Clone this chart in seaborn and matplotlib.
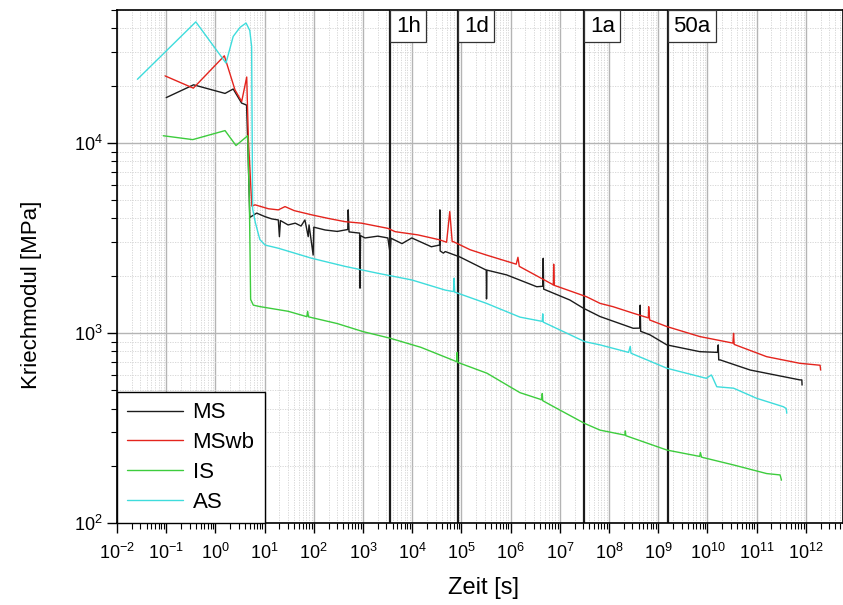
import numpy as np
import pandas as pd
import matplotlib
matplotlib.use("Agg")
import matplotlib.pyplot as plt
import seaborn as sns
from matplotlib.ticker import LogLocator, NullFormatter
from matplotlib.lines import Line2D

# ---------------- data ----------------
ms_t = [0.1, 0.36, 1.57, 2.3, 3.4, 4.3, 4.6, 5.0, 6.9, 10.2, 14, 19, 20, 21, 30, 42, 55, 66,
        77, 80, 97, 100, 170, 300, 490, 500, 520, 860, 870, 890, 1100, 2000, 3200, 3550,
        3700, 6200, 9800, 2.45e4, 3.6e4, 3.65e4, 3.7e4, 4.3e4, 4.7e4, 9.3e4, 3.2e5, 3.24e5,
        3.3e5, 8.3e5, 3.4e6, 4.5e6, 4.6e6, 4.7e6, 1.6e7, 3e7, 6.6e7, 3.1e8, 4.2e8, 4.3e8,
        4.4e8, 6.8e8, 1.5e9, 7e9, 1.6e10, 1.66e10, 1.7e10, 1.82e10, 7.4e10, 3.5e11, 7.6e11,
        8.3e11, 8.4e11]
ms_e = [17300, 20200, 18200, 19200, 16200, 15800, 9000, 4050, 4270, 4090, 3980, 3930, 3210,
        3900, 3700, 3780, 3650, 3930, 3210, 3700, 2570, 3600, 3480, 3420, 3500, 4440, 3400,
        3350, 1720, 3250, 3160, 3230, 3160, 2630, 3150, 2950, 3160, 2840, 2900, 4440, 2700,
        2630, 2680, 2510, 2140, 1510, 2140, 2020, 1750, 1760, 2470, 1700, 1490, 1350, 1219,
        1058, 1060, 1400, 1020, 977, 865, 797, 790, 865, 721, 721, 638, 589, 566, 566, 532]

mswb_t = [0.095, 0.356, 1.52, 2.5, 3.42, 4.33, 4.68, 5.5, 6.4, 12, 19, 26, 40, 91, 200, 430,
          930, 3200, 4500, 1.3e4, 3.6e4, 5.0e4, 5.8e4, 6.5e4, 6.9e4, 1.5e5, 3.2e5, 1.3e6,
          1.41e6, 1.5e6, 7.4e6, 7.5e6, 7.7e6, 3.5e7, 6.6e7, 1.2e8, 3.1e8, 6.3e8, 6.4e8,
          6.7e8, 1.5e9, 7e9, 3.3e10, 3.4e10, 3.5e10, 1.6e11, 7.6e11, 1.95e12, 2.0e12]
mswb_e = [22500, 19400, 28700, 19000, 16500, 22200, 10400, 4650, 4720, 4500, 4440, 4620,
          4400, 4180, 4000, 3850, 3780, 3550, 3410, 3280, 3090, 3000, 4350, 3020, 3020, 2740,
          2570, 2300, 2500, 2240, 1790, 2300, 1780, 1550, 1430, 1375, 1270, 1200, 1375, 1170,
          1080, 957, 884, 995, 870, 750, 692, 676, 638]

is_t = [0.087, 0.346, 1.57, 2.62, 4.53, 4.9, 5.2, 5.9, 8.1, 30, 72, 75, 78, 300, 1000, 3550,
        1.5e4, 8.0e4, 8.2e4, 8.4e4, 3.3e5, 1.55e6, 4.3e6, 4.4e6, 4.5e6, 7.4e6, 3.2e7, 6.6e7,
        2.1e8, 2.15e8, 2.2e8, 1.5e9, 7e9, 7.2e9, 7.6e9, 3.4e10, 1.6e11, 3.0e11, 3.2e11]
is_e = [10900, 10400, 11600, 9680, 10900, 5000, 1500, 1400, 1375, 1300, 1218, 1300, 1215,
        1120, 1016, 938, 840, 706, 790, 700, 614, 485, 445, 480, 440, 410, 334, 308, 290,
        305, 288, 242, 224, 235, 222, 202, 182, 179, 168]

as_t = [0.026, 0.4, 1.64, 2.3, 3.16, 4.2, 5.0, 5.45, 5.6, 5.7, 6.5, 8.0, 10.2, 19, 91, 430,
        2000, 9800, 4.7e4, 6.9e4, 7.1e4, 7.3e4, 3.2e5, 1.55e6, 4.4e6, 4.5e6, 4.6e6, 3.2e7,
        6.6e7, 2.5e8, 2.7e8, 2.8e8, 1.5e9, 9.5e9, 1.2e10, 1.25e10, 1.55e10, 3.4e10, 1.0e11,
        3.5e11, 4.0e11, 4.1e11]
as_e = [21600, 43300, 26300, 36300, 40500, 42700, 39000, 32100, 10000, 4500, 3800, 3100,
        2900, 2790, 2470, 2240, 2060, 1900, 1680, 1650, 1940, 1640, 1432, 1211, 1150, 1260,
        1140, 900, 865, 790, 850, 782, 652, 577, 601, 590, 521, 512, 453, 409, 400, 378]

series_names = ["MS", "MSwb", "IS", "AS"]
colors = ["#1c1c1c", "#e4241d", "#3dcc3d", "#3edcdc"]

marker_labels = ["1h", "1d", "1a", "50a"]
marker_times = [3600, 86400, 3.1536e7, 1.5768e9]

frames = []
for name, t, e in zip(series_names, [ms_t, mswb_t, is_t, as_t], [ms_e, mswb_e, is_e, as_e]):
    frames.append(pd.DataFrame({"Zeit": t, "E": e, "Serie": name}))
df = pd.concat(frames, ignore_index=True)

# ---------------- plot ----------------
sns.set_style("ticks")
plt.rcParams["font.family"] = ["Liberation Sans", "DejaVu Sans"]
plt.rcParams["mathtext.fontset"] = "custom"
plt.rcParams["mathtext.rm"] = "Liberation Sans"
plt.rcParams["mathtext.it"] = "Liberation Sans:italic"
plt.rcParams["text.color"] = "black"
plt.rcParams["axes.labelcolor"] = "black"
plt.rcParams["xtick.color"] = "black"
plt.rcParams["ytick.color"] = "black"

fig = plt.figure(figsize=(8.43, 6.05), dpi=100)
ax = fig.add_axes([117 / 843, 1 - 523 / 605, 1 - 117 / 843, (523 - 10) / 605])
ax.set_xscale("log")
ax.set_yscale("log")

sns.lineplot(data=df, x="Zeit", y="E", hue="Serie", hue_order=series_names,
             palette=dict(zip(series_names, colors)), estimator=None, sort=False,
             units="Serie", lw=1.0, ax=ax, legend=False, zorder=3)

for t in marker_times:
    ax.axvline(t, color="#1a1a1a", lw=1.6, zorder=2)

for lab, t in zip(marker_labels, marker_times):
    ax.annotate(lab, xy=(t, 1), xycoords=("data", "axes fraction"),
                xytext=(4, -4), textcoords="offset points", ha="left", va="top",
                fontsize=16, zorder=5, color="black",
                bbox=dict(boxstyle="square,pad=0.25", fc="white", ec="#333333", lw=0.9))

ax.set_xlim(1e-2, 5.7e12)
ax.set_ylim(100, 5e4)

ax.xaxis.set_major_locator(LogLocator(base=10, numticks=30))
ax.xaxis.set_minor_locator(LogLocator(base=10, subs=np.arange(2, 10), numticks=300))
ax.xaxis.set_minor_formatter(NullFormatter())
ax.yaxis.set_major_locator(LogLocator(base=10, numticks=30))
ax.yaxis.set_minor_locator(LogLocator(base=10, subs=np.arange(2, 10), numticks=300))
ax.yaxis.set_minor_formatter(NullFormatter())

ax.grid(which="major", color="#b4b4b4", lw=1.0, ls="-", zorder=0)
ax.grid(which="minor", color="#d2d2d2", lw=0.6, ls=(0, (1.5, 1.5)), zorder=0)
ax.set_axisbelow(True)

ax.tick_params(which="major", direction="out", length=7, width=1, colors="black", labelsize=13)
ax.tick_params(axis="x", which="major", pad=7)
ax.tick_params(which="minor", direction="out", length=4, width=0.8, colors="black")
for s in ax.spines.values():
    s.set_color("black")
    s.set_linewidth(1.2)

ax.set_xlabel("Zeit [s]", fontsize=17, color="black")
ax.set_ylabel("Kriechmodul [MPa]", fontsize=16, color="black")
ax.xaxis.set_label_coords((484 - 117) / 726, (523 - 577) / 513)
ax.yaxis.set_label_coords((42 - 117) / 726, (523 - 295) / 513)

handles = [Line2D([0], [0], color=c, lw=1.0) for c in colors]
leg = ax.legend(handles, series_names, loc="lower left", borderaxespad=0, fontsize=16,
                frameon=True, fancybox=False, edgecolor="black", framealpha=1,
                handlelength=2.5, handletextpad=0.45, labelspacing=0.4, borderpad=0.45)
leg.get_frame().set_linewidth(1.0)
for txt in leg.get_texts():
    txt.set_color("black")
leg.set_zorder(6)

fig.savefig("out.png", dpi=100)
